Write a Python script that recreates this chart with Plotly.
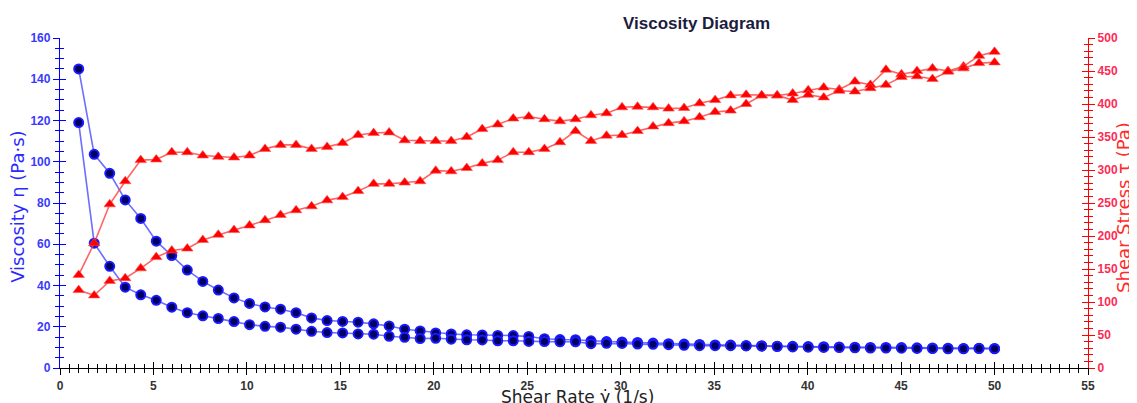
import plotly.graph_objects as go

shear_rate = [1.00, 1.83, 2.66, 3.49, 4.32, 5.15, 5.98, 6.81, 7.64, 8.47,
              9.31, 10.14, 10.97, 11.80, 12.63, 13.46, 14.29, 15.12, 15.95, 16.78,
              17.61, 18.44, 19.27, 20.10, 20.93, 21.76, 22.59, 23.42, 24.25, 25.08,
              25.92, 26.75, 27.58, 28.41, 29.24, 30.07, 30.90, 31.73, 32.56, 33.39,
              34.22, 35.05, 35.88, 36.71, 37.54, 38.37, 39.20, 40.03, 40.86, 41.69,
              42.53, 43.36, 44.19, 45.02, 45.85, 46.68, 47.51, 48.34, 49.17, 50.00]

viscosity_up = [145, 103.6, 94.4, 81.5, 72.5, 61.5, 54.5, 47.5, 42, 37.8,
                34, 31.3, 29.6, 28.5, 26.8, 24.3, 23, 22.6, 22.2, 21.4,
                20.4, 18.8, 18, 17, 16.5, 16.1, 16, 15.8, 15.7, 15.3,
                14.2, 13.8, 13.7, 13.2, 12.8, 12.6, 12.4, 12.1, 11.8, 11.6,
                11.4, 11.2, 11.1, 10.9, 10.8, 10.6, 10.5, 10.4, 10.3, 10.2,
                10.1, 10.0, 10.0, 9.9, 9.8, 9.7, 9.6, 9.5, 9.6, 9.5]

viscosity_down = [119, 60.5, 49.3, 39.2, 35.5, 32.8, 29.5, 26.8, 25.3, 24,
                  22.5, 21, 20.2, 19.8, 18.8, 17.8, 17.2, 17, 16.5, 16.4,
                  15.4, 14.9, 14.3, 14.4, 14.0, 13.7, 13.6, 13.2, 13.2, 12.9,
                  12.8, 12.7, 12.7, 11.8, 12.0, 11.9, 11.6, 11.5, 11.3, 11.0,
                  10.8, 10.8, 10.8, 10.7, 10.6, 10.4, 10.2, 10.1, 10.0, 9.9,
                  9.8, 9.7, 9.7, 9.6, 9.5, 9.4, 9.3, 9.3, 9.4, 9.3]

stress_a = [141, 189, 248, 283, 315, 316, 327, 327, 322, 320,
            319, 322, 332, 338, 338, 332, 335, 341, 353, 356,
            357, 345, 344, 344, 344, 350, 362, 369, 378, 381,
            377, 374, 377, 383, 386, 395, 396, 395, 393, 394,
            401, 406, 413, 414, 413, 413, 416, 421, 425, 422,
            434, 429, 452, 445, 450, 454, 450, 457, 473, 479]

stress_b = [118, 110, 132, 136, 151, 168, 178, 181, 194, 202,
            209, 216, 224, 232, 239, 245, 254, 259, 268, 279,
            279, 281, 283, 299, 298, 303, 310, 315, 327, 327,
            332, 342, 359, 344, 352, 353, 359, 366, 371, 374,
            380, 388, 390, 400, 413, 413, 406, 414, 410, 420,
            419, 424, 429, 441, 442, 438, 449, 454, 462, 463]

x_ticks = [0, 5, 10, 15, 20, 25, 30, 35, 40, 45, 50, 55]
visc_ticks = [0, 20, 40, 60, 80, 100, 120, 140, 160]
stress_ticks = [0, 50, 100, 150, 200, 250, 300, 350, 400, 450, 500]

BLUE = "#0000ff"
RED = "#ff0000"

fig = go.Figure()

for visc in (viscosity_up, viscosity_down):
    fig.add_trace(go.Scatter(
        x=shear_rate, y=visc, mode="lines+markers", yaxis="y",
        line=dict(color="rgba(60,60,255,0.75)", width=1.6),
        marker=dict(symbol="circle", size=9, color="#000060",
                    line=dict(color="#1a1aff", width=2)),
        showlegend=False, hoverinfo="x+y"))

for st in (stress_a, stress_b):
    fig.add_trace(go.Scatter(
        x=shear_rate, y=st, mode="lines+markers", yaxis="y2",
        line=dict(color="rgba(255,60,60,0.8)", width=1.6),
        marker=dict(symbol="triangle-up", size=10, color=RED,
                    line=dict(color="rgba(255,80,80,0.6)", width=1)),
        showlegend=False, hoverinfo="x+y"))

# invisible helper traces so the tick-crossing overlay axes are drawn
fig.add_trace(go.Scatter(x=[0], y=[0], xaxis="x2", yaxis="y3", mode="markers",
                         marker=dict(opacity=0), showlegend=False, hoverinfo="skip"))
fig.add_trace(go.Scatter(x=[0], y=[0], xaxis="x2", yaxis="y4", mode="markers",
                         marker=dict(opacity=0), showlegend=False, hoverinfo="skip"))

tickfont_x = dict(family="Liberation Sans, Arial", size=12, color="#333333", weight="bold")
tickfont_l = dict(family="Liberation Sans, Arial", size=12, color="#3a3aff", weight="bold")
tickfont_r = dict(family="Liberation Sans, Arial", size=12, color="#ff2a55", weight="bold")

# the page body adds an 8px offset, so the figure is 8px smaller and margins shifted
fig.update_layout(
    width=1129, height=395,
    margin=dict(l=52, r=49, t=30, b=35, autoexpand=False),
    paper_bgcolor="white", plot_bgcolor="white",
    showlegend=False,
    xaxis=dict(range=[0, 55], tickvals=x_ticks, ticks="outside", ticklen=6,
               tickwidth=1.3, tickcolor="black", showline=True, linecolor="black",
               linewidth=1.3, showgrid=False, zeroline=False, tickfont=tickfont_x,
               anchor="y", automargin=False,
               minor=dict(dtick=0.5, ticks="outside", ticklen=4,
                          tickcolor="black", tickwidth=1)),
    xaxis2=dict(range=[0, 55], overlaying="x", anchor="y", tickvals=x_ticks,
                ticks="inside", ticklen=6, tickwidth=1.3, tickcolor="black",
                showticklabels=False, showline=False, showgrid=False, zeroline=False,
                minor=dict(dtick=0.5, ticks="inside", ticklen=4, tickcolor="black",
                           tickwidth=1)),
    yaxis=dict(range=[0, 160], tickvals=visc_ticks, ticks="outside", ticklen=6,
               tickwidth=1.3, tickcolor=BLUE, showline=True, linecolor=BLUE,
               linewidth=1.3, showgrid=False, zeroline=False, tickfont=tickfont_l,
               automargin=False,
               minor=dict(dtick=5, ticks="outside", ticklen=4, tickcolor=BLUE,
                          tickwidth=1)),
    yaxis2=dict(range=[0, 500], tickvals=stress_ticks, overlaying="y", side="right",
                anchor="x", ticks="outside", ticklen=6, tickwidth=1.3, tickcolor=RED,
                showline=True, linecolor=RED, linewidth=1.3, showgrid=False,
                zeroline=False, tickfont=tickfont_r, automargin=False,
                minor=dict(dtick=10, ticks="outside", ticklen=4, tickcolor=RED,
                           tickwidth=1)),
    yaxis3=dict(range=[0, 160], tickvals=visc_ticks, overlaying="y", side="left",
                anchor="x2", ticks="inside", ticklen=6, tickwidth=1.3, tickcolor=BLUE,
                showticklabels=False, showline=False, showgrid=False, zeroline=False,
                minor=dict(dtick=5, ticks="inside", ticklen=4, tickcolor=BLUE,
                           tickwidth=1)),
    yaxis4=dict(range=[0, 500], tickvals=stress_ticks, overlaying="y", side="right",
                anchor="x2", ticks="inside", ticklen=6, tickwidth=1.3, tickcolor=RED,
                showticklabels=False, showline=False, showgrid=False, zeroline=False,
                minor=dict(dtick=10, ticks="inside", ticklen=4, tickcolor=RED,
                           tickwidth=1)),
    annotations=[
        dict(text="<b>Viscosity Diagram</b>", xref="paper", yref="paper",
             x=0.619, y=1.044, xanchor="center", yanchor="middle", showarrow=False,
             font=dict(family="Liberation Sans, Arial", size=17, color="#1c1c3c")),
        dict(text="Shear Rate γ̇ (1/s)", xref="paper", yref="paper",
             x=0.503, y=-0.088, xanchor="center", yanchor="middle", showarrow=False,
             font=dict(family="DejaVu Sans", size=17, color="#222222")),
        dict(text="Viscosity η (Pa·s)", xref="paper", yref="paper",
             x=-0.041, y=0.488, xanchor="center", yanchor="middle", showarrow=False,
             textangle=-90, font=dict(family="DejaVu Sans", size=18, color="#2a2aff")),
        dict(text="Shear Stress τ (Pa)", xref="paper", yref="paper",
             x=1.035, y=0.488, xanchor="center", yanchor="middle", showarrow=False,
             textangle=-90, font=dict(family="DejaVu Sans", size=18, color="#ff2a2a")),
    ],
)

fig.write_html("out.html")
